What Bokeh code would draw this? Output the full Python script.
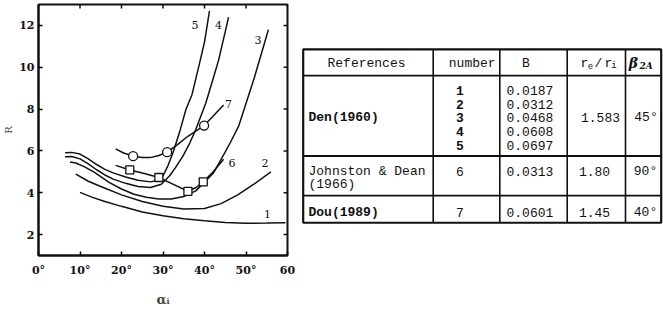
from bokeh.plotting import figure
from bokeh.models import Range1d, FixedTicker
from bokeh.layouts import row
from bokeh.embed import file_html
from bokeh.resources import INLINE
from bokeh.core.properties import value

# ---------------- chart data ----------------
c1_x = [10, 13, 16, 20, 25, 30, 35, 40, 45, 50, 55, 59.5]
c1_y = [4.02, 3.78, 3.58, 3.35, 3.08, 2.90, 2.76, 2.66, 2.58, 2.54, 2.55, 2.57]

c2_x = [9, 12, 15, 20, 25, 30, 35, 40, 44, 48, 52, 56]
c2_y = [4.89, 4.55, 4.30, 3.90, 3.58, 3.35, 3.22, 3.25, 3.48, 3.90, 4.42, 5.0]

c3_x = [7.6, 9, 11, 13.5, 17, 20, 23, 26, 29, 32, 35, 37.9, 40, 42.2, 44, 46.2, 48.2, 50, 52, 54, 55.4]
c3_y = [5.47, 5.42, 5.25, 4.97, 4.5, 4.18, 3.93, 3.78, 3.70, 3.70, 3.82, 4.09, 4.5, 4.96, 5.6, 6.39, 7.17, 8.27, 9.5, 10.85, 11.8]

c4_x = [6.4, 8, 10, 12, 14, 16, 18, 21, 24, 27, 29.6, 31.6, 33, 34.8, 36.5, 37.9, 40.3, 42, 43.4, 45, 45.8]
c4_y = [5.72, 5.73, 5.62, 5.38, 5.1, 4.85, 4.65, 4.45, 4.3, 4.25, 4.41, 4.81, 5.2, 5.75, 6.4, 7.02, 8.28, 9.4, 10.34, 11.7, 12.4]

c5_x = [6.4, 8, 10, 12, 14, 16, 18, 21, 24, 27, 28.8, 30, 31.2, 32.4, 34, 35.5, 37, 38.7, 40, 41.2]
c5_y = [5.91, 5.93, 5.85, 5.62, 5.35, 5.12, 4.95, 4.75, 4.6, 4.52, 4.6, 4.81, 5.3, 5.91, 6.9, 7.97, 8.7, 10.1, 11.2, 12.7]

c6_x = [18.6, 22.0, 25.5, 29.0, 32.5, 36.0, 38, 39.7, 42, 44.6]
c6_y = [5.31, 5.09, 4.92, 4.73, 4.4, 4.07, 4.25, 4.52, 4.98, 5.6]
c6_mx = [22.0, 29.0, 36.0, 39.7]
c6_my = [5.09, 4.73, 4.07, 4.52]

c7_x = [18.6, 20.5, 22.8, 25, 26.9, 29, 31.0, 33.5, 36, 39.9, 42, 44.6]
c7_y = [6.10, 5.9, 5.75, 5.68, 5.68, 5.78, 5.94, 6.3, 6.7, 7.21, 7.65, 8.2]
c7_mx = [22.8, 31.0, 39.9]
c7_my = [5.75, 5.94, 7.21]

curve_labels = ["1", "2", "3", "4", "5", "6", "7"]
label_x = [55.2, 54.6, 52.9, 43.4, 37.7, 46.6, 45.8]
label_y = [2.99, 5.40, 11.32, 12.0, 12.0, 5.44, 8.25]

x_ticks = [0, 10, 20, 30, 40, 50, 60]
x_tick_labels = ["0°", "10°", "20°", "30°", "40°", "50°", "60"]
y_ticks = [2, 4, 6, 8, 10, 12]

# ---------------- table data ----------------
ref_names = ["Den(1960)", "Johnston & Dean", "(1966)", "Dou(1989)"]
den_numbers = ["1", "2", "3", "4", "5"]
den_B = ["0.0187", "0.0312", "0.0468", "0.0608", "0.0697"]
other_numbers = ["6", "7"]
other_B = ["0.0313", "0.0601"]
ratios = ["1.583", "1.80", "1.45"]
betas = ["45°", "90°", "40°"]

# ---------------- chart ----------------
serif = value("DejaVu Serif")
X0, X1, Y0, Y1 = 0, 60, 1, 13
p = figure(width=295, height=309, x_range=Range1d(X0, X1), y_range=Range1d(Y0, Y1),
           output_backend="svg", toolbar_location=None,
           min_border_left=33, min_border_right=8, min_border_top=4, min_border_bottom=52)
p.grid.visible = False
p.outline_line_color = "#111111"
p.outline_line_width = 2

for ax in p.xaxis:
    ax.ticker = FixedTicker(ticks=x_ticks)
    ax.major_label_overrides = {t: s for t, s in zip(x_ticks, x_tick_labels)}
    ax.axis_label = "αᵢ"
    ax.axis_label_standoff = 12
    ax.axis_label_text_font = "DejaVu Serif"
    ax.axis_label_text_font_style = "bold"
    ax.axis_label_text_font_size = "13px"
for ax in p.yaxis:
    ax.ticker = FixedTicker(ticks=y_ticks)
    ax.axis_label = "R"
    ax.axis_label_standoff = 2
    ax.axis_label_text_font = "DejaVu Serif"
    ax.axis_label_text_font_style = "normal"
    ax.axis_label_text_font_size = "10px"
for ax in list(p.xaxis) + list(p.yaxis):
    ax.major_tick_in = 4
    ax.major_tick_out = 0
    ax.minor_tick_line_color = None
    ax.axis_line_width = 2
    ax.axis_line_color = "#111111"
    ax.major_tick_line_width = 1.5
    ax.major_label_text_font = "DejaVu Serif"
    ax.major_label_text_font_style = "bold"
    ax.major_label_text_font_size = "11px"
    ax.major_label_text_color = "#111111"
p.xaxis.major_label_standoff = 8
p.yaxis.major_label_standoff = 4

# inward ticks on the top and right edges (mirroring the bottom/left ticks)
tick_dx = (X1 - X0) * 4 / 254.0
tick_dy = (Y1 - Y0) * 4 / 253.0
p.segment(x0=x_ticks, y0=[Y1] * len(x_ticks), x1=x_ticks, y1=[Y1 - tick_dy] * len(x_ticks),
          line_color="#111111", line_width=1.5)
p.segment(x0=[X1] * len(y_ticks), y0=y_ticks, x1=[X1 - tick_dx] * len(y_ticks), y1=y_ticks,
          line_color="#111111", line_width=1.5)

for xs, ys in [(c1_x, c1_y), (c2_x, c2_y), (c3_x, c3_y), (c4_x, c4_y),
               (c5_x, c5_y), (c6_x, c6_y), (c7_x, c7_y)]:
    p.line(xs, ys, line_color="#111111", line_width=1.5)

p.scatter(c6_mx, c6_my, marker="square", size=8, fill_color="white",
          line_color="#111111", line_width=1.3)
p.scatter(c7_mx, c7_my, marker="circle", size=9, fill_color="white",
          line_color="#111111", line_width=1.3)

p.text(label_x, label_y, text=curve_labels, text_font=serif, text_font_size="11px",
       text_align="center", text_baseline="middle", text_color="#111111")

# ---------------- table ----------------
mono = value("Liberation Mono")
# frame spans the same pixel rows as the chart frame (4 .. 257), so data y == pixel y
t = figure(width=368, height=309, x_range=Range1d(295, 663), y_range=Range1d(257, 4),
           output_backend="svg", toolbar_location=None,
           min_border_left=0, min_border_right=0, min_border_top=4, min_border_bottom=52,
           x_axis_location=None, y_axis_location=None)
t.grid.visible = False
t.outline_line_color = None

L, R, T, Bm = 302.7, 660.7, 49.3, 224.0
h_lines = [75.7, 156.7, 196.7]
v_lines = [432.7, 499.3, 566.7, 625.0]
t.segment(x0=[L] * 3, y0=h_lines, x1=[R] * 3, y1=h_lines, line_color="#111111", line_width=1.8)
t.segment(x0=v_lines, y0=[T] * 4, x1=v_lines, y1=[Bm] * 4, line_color="#111111", line_width=1.6)
t.quad(left=[L], right=[R], top=[T], bottom=[Bm], fill_color=None,
       line_color="#111111", line_width=2.2)

fs = "13px"
common = dict(text_font=mono, text_font_size=fs, text_baseline="middle", text_color="#111111")

hy = 63.3
t.text([366.0, 471.7, 525.3], [hy] * 3, text=["References", "number", "B"],
       text_align="center", **common)
# r_e / r_i header
t.text([584.0, 598.0, 608.0], [hy] * 3, text=["r", "/", "r"], text_align="center", **common)
t.text([590.0, 613.5], [hy + 3] * 2, text=["e", "i"], text_align="center",
       text_font=mono, text_font_size="9px", text_baseline="middle", text_color="#111111")
# beta_2A header
t.text([633.0], [hy], text=["β"], text_align="center", text_font=serif,
       text_font_style="bold italic", text_font_size="14px", text_baseline="middle",
       text_color="#111111")
t.text([645.5], [hy + 3], text=["2A"], text_align="center", text_font=serif,
       text_font_style="bold italic", text_font_size="9px", text_baseline="middle",
       text_color="#111111")

den_y0, den_dy = 90.7, 13.8
den_rows = [den_y0 + i * den_dy for i in range(len(den_numbers))]
den_mid = den_rows[2]
row_j, row_j2, row_d = 172.7, 185.7, 214.0

t.text([308.0, 308.0], [den_mid, row_d], text=[ref_names[0], ref_names[3]],
       text_align="left", text_font_style="bold", **common)
t.text([308.0, 308.0], [row_j, row_j2], text=[ref_names[1], ref_names[2]],
       text_align="left", **common)

t.text([459.3] * len(den_numbers), den_rows, text=den_numbers, text_align="center",
       text_font_style="bold", **common)
t.text([506.0] * len(den_B), den_rows, text=den_B, text_align="left", **common)

t.text([459.3] * 2, [row_j, row_d], text=other_numbers, text_align="center", **common)
t.text([506.0] * 2, [row_j, row_d], text=other_B, text_align="left", **common)

t.text([600.0, 594.0, 594.0], [den_mid, row_j, row_d], text=ratios, text_align="center", **common)
t.text([645.5, 645.0, 645.0], [den_mid, row_j, row_d], text=betas, text_align="center", **common)

layout = row(p, t)
open("out.html", "w").write(file_html(layout, INLINE))
